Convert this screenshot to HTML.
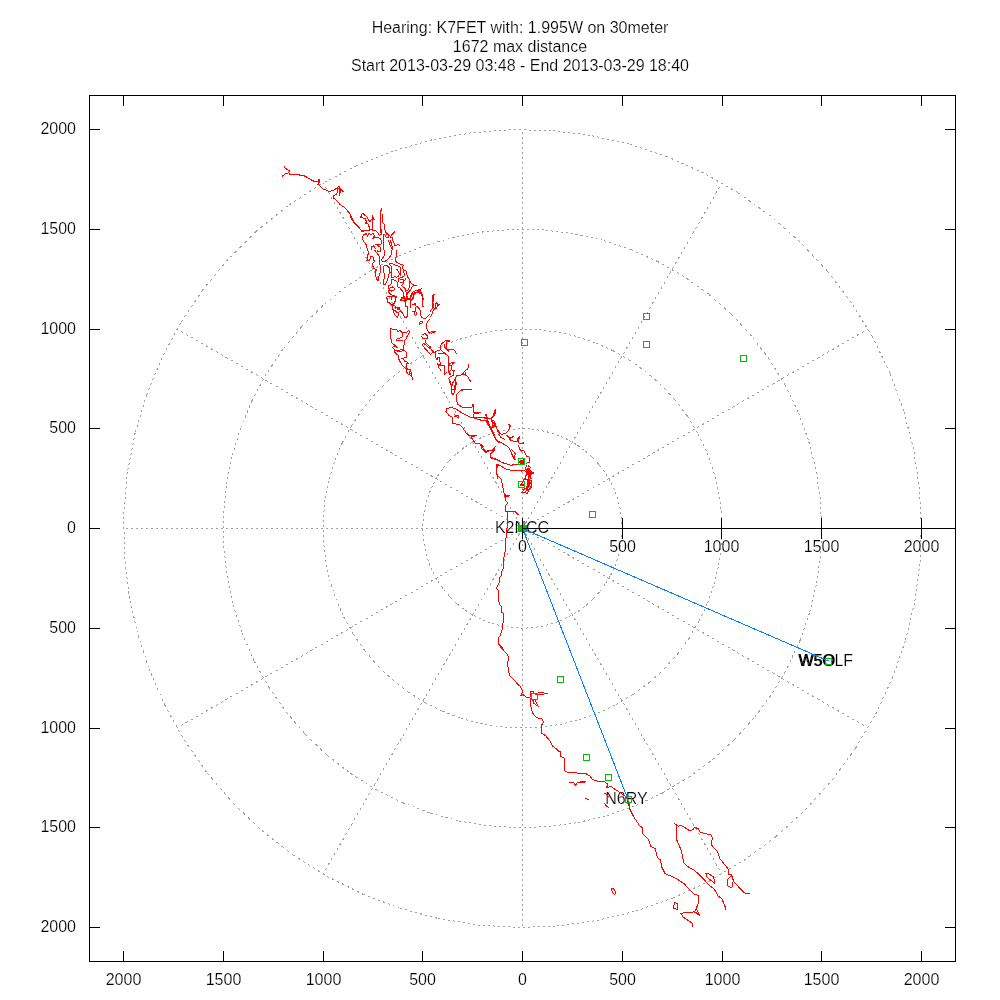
<!DOCTYPE html>
<html><head><meta charset="utf-8"><style>
html,body{margin:0;padding:0;background:#fff;width:1000px;height:1000px;overflow:hidden}
svg{display:block;will-change:transform}
text{font-family:"Liberation Sans",sans-serif}
</style></head><body>
<svg width="1000" height="1000" viewBox="0 0 1000 1000" shape-rendering="crispEdges">
<g fill="none" stroke="#a0a0a0" stroke-width="1"><line x1="622.25" y1="528.50" x2="621.75" y2="518.54" stroke-dasharray="2.00 3.00"/><line x1="621.75" y1="518.54" x2="620.26" y2="508.68" stroke-dasharray="2.02 3.03"/><line x1="620.26" y1="508.68" x2="617.79" y2="499.02" stroke-dasharray="2.06 3.10"/><line x1="617.79" y1="499.02" x2="614.38" y2="489.66" stroke-dasharray="2.13 3.19"/><line x1="614.38" y1="489.66" x2="610.04" y2="480.68" stroke-dasharray="2.22 3.33"/><line x1="610.04" y1="480.68" x2="604.83" y2="472.18" stroke-dasharray="2.35 3.52"/><line x1="604.83" y1="472.18" x2="598.79" y2="464.24" stroke-dasharray="2.51 3.77"/><line x1="598.79" y1="464.24" x2="592.00" y2="456.94" stroke-dasharray="2.73 4.10"/><line x1="592.00" y1="456.94" x2="584.51" y2="450.36" stroke-dasharray="2.66 3.99"/><line x1="584.51" y1="450.36" x2="576.40" y2="444.56" stroke-dasharray="2.46 3.69"/><line x1="576.40" y1="444.56" x2="567.75" y2="439.60" stroke-dasharray="2.31 3.46"/><line x1="567.75" y1="439.60" x2="558.65" y2="435.53" stroke-dasharray="2.19 3.29"/><line x1="558.65" y1="435.53" x2="549.18" y2="432.39" stroke-dasharray="2.11 3.16"/><line x1="549.18" y1="432.39" x2="539.45" y2="430.20" stroke-dasharray="2.05 3.07"/><line x1="539.45" y1="430.20" x2="529.56" y2="429.00" stroke-dasharray="2.01 3.02"/><line x1="529.56" y1="429.00" x2="519.59" y2="428.79" stroke-dasharray="2.00 3.00"/><line x1="519.59" y1="428.79" x2="509.65" y2="429.58" stroke-dasharray="2.01 3.01"/><line x1="509.65" y1="429.58" x2="499.84" y2="431.36" stroke-dasharray="2.03 3.05"/><line x1="499.84" y1="431.36" x2="490.25" y2="434.11" stroke-dasharray="2.08 3.12"/><line x1="490.25" y1="434.11" x2="480.99" y2="437.80" stroke-dasharray="2.15 3.23"/><line x1="480.99" y1="437.80" x2="472.14" y2="442.39" stroke-dasharray="2.25 3.38"/><line x1="472.14" y1="442.39" x2="463.80" y2="447.85" stroke-dasharray="2.39 3.58"/><line x1="463.80" y1="447.85" x2="456.04" y2="454.12" stroke-dasharray="2.57 3.86"/><line x1="456.04" y1="454.12" x2="448.94" y2="461.12" stroke-dasharray="2.81 4.22"/><line x1="448.94" y1="461.12" x2="442.59" y2="468.80" stroke-dasharray="2.60 3.89"/><line x1="442.59" y1="468.80" x2="437.03" y2="477.08" stroke-dasharray="2.41 3.61"/><line x1="437.03" y1="477.08" x2="432.32" y2="485.87" stroke-dasharray="2.27 3.40"/><line x1="432.32" y1="485.87" x2="428.51" y2="495.08" stroke-dasharray="2.16 3.25"/><line x1="428.51" y1="495.08" x2="425.65" y2="504.63" stroke-dasharray="2.09 3.13"/><line x1="425.65" y1="504.63" x2="423.75" y2="514.42" stroke-dasharray="2.04 3.06"/><line x1="423.75" y1="514.42" x2="422.84" y2="524.35" stroke-dasharray="2.01 3.01"/><line x1="422.84" y1="524.35" x2="422.92" y2="534.32" stroke-dasharray="2.00 3.00"/><line x1="422.92" y1="534.32" x2="424.00" y2="544.24" stroke-dasharray="2.01 3.02"/><line x1="424.00" y1="544.24" x2="426.06" y2="553.99" stroke-dasharray="2.04 3.07"/><line x1="426.06" y1="553.99" x2="429.09" y2="563.49" stroke-dasharray="2.10 3.15"/><line x1="429.09" y1="563.49" x2="433.05" y2="572.64" stroke-dasharray="2.18 3.27"/><line x1="433.05" y1="572.64" x2="437.90" y2="581.35" stroke-dasharray="2.29 3.43"/><line x1="437.90" y1="581.35" x2="443.60" y2="589.53" stroke-dasharray="2.44 3.66"/><line x1="443.60" y1="589.53" x2="450.09" y2="597.10" stroke-dasharray="2.63 3.95"/><line x1="450.09" y1="597.10" x2="457.30" y2="603.99" stroke-dasharray="2.77 4.15"/><line x1="457.30" y1="603.99" x2="465.16" y2="610.12" stroke-dasharray="2.54 3.80"/><line x1="465.16" y1="610.12" x2="473.60" y2="615.44" stroke-dasharray="2.36 3.55"/><line x1="473.60" y1="615.44" x2="482.52" y2="619.89" stroke-dasharray="2.23 3.35"/><line x1="482.52" y1="619.89" x2="491.84" y2="623.42" stroke-dasharray="2.14 3.21"/><line x1="491.84" y1="623.42" x2="501.47" y2="626.01" stroke-dasharray="2.07 3.11"/><line x1="501.47" y1="626.01" x2="511.31" y2="627.62" stroke-dasharray="2.03 3.04"/><line x1="511.31" y1="627.62" x2="521.26" y2="628.24" stroke-dasharray="2.00 3.01"/><line x1="521.26" y1="628.24" x2="531.23" y2="627.87" stroke-dasharray="2.00 3.00"/><line x1="531.23" y1="627.87" x2="541.10" y2="626.50" stroke-dasharray="2.02 3.03"/><line x1="541.10" y1="626.50" x2="550.80" y2="624.15" stroke-dasharray="2.06 3.09"/><line x1="550.80" y1="624.15" x2="560.20" y2="620.85" stroke-dasharray="2.12 3.18"/><line x1="560.20" y1="620.85" x2="569.23" y2="616.62" stroke-dasharray="2.21 3.31"/><line x1="569.23" y1="616.62" x2="577.80" y2="611.52" stroke-dasharray="2.33 3.49"/><line x1="577.80" y1="611.52" x2="585.81" y2="605.58" stroke-dasharray="2.49 3.73"/><line x1="585.81" y1="605.58" x2="593.19" y2="598.88" stroke-dasharray="2.70 4.05"/><line x1="593.19" y1="598.88" x2="599.86" y2="591.47" stroke-dasharray="2.69 4.04"/><line x1="599.86" y1="591.47" x2="605.76" y2="583.43" stroke-dasharray="2.48 3.72"/><line x1="605.76" y1="583.43" x2="610.83" y2="574.84" stroke-dasharray="2.32 3.48"/><line x1="610.83" y1="574.84" x2="615.02" y2="565.79" stroke-dasharray="2.20 3.31"/><line x1="615.02" y1="565.79" x2="618.28" y2="556.37" stroke-dasharray="2.12 3.17"/><line x1="618.28" y1="556.37" x2="620.58" y2="546.67" stroke-dasharray="2.06 3.08"/><line x1="620.58" y1="546.67" x2="621.91" y2="536.79" stroke-dasharray="2.02 3.03"/><line x1="621.91" y1="536.79" x2="622.24" y2="526.82" stroke-dasharray="2.00 3.00"/><line x1="722.00" y1="528.50" x2="721.00" y2="508.58" stroke-dasharray="2.00 3.00"/><line x1="721.00" y1="508.58" x2="718.02" y2="488.87" stroke-dasharray="2.02 3.03"/><line x1="718.02" y1="488.87" x2="713.09" y2="469.54" stroke-dasharray="2.06 3.10"/><line x1="713.09" y1="469.54" x2="706.25" y2="450.81" stroke-dasharray="2.13 3.19"/><line x1="706.25" y1="450.81" x2="697.58" y2="432.85" stroke-dasharray="2.22 3.33"/><line x1="697.58" y1="432.85" x2="687.15" y2="415.85" stroke-dasharray="2.35 3.52"/><line x1="687.15" y1="415.85" x2="675.09" y2="399.98" stroke-dasharray="2.51 3.77"/><line x1="675.09" y1="399.98" x2="661.49" y2="385.39" stroke-dasharray="2.73 4.10"/><line x1="661.49" y1="385.39" x2="646.51" y2="372.23" stroke-dasharray="2.66 3.99"/><line x1="646.51" y1="372.23" x2="630.29" y2="360.63" stroke-dasharray="2.46 3.69"/><line x1="630.29" y1="360.63" x2="612.99" y2="350.70" stroke-dasharray="2.31 3.46"/><line x1="612.99" y1="350.70" x2="594.79" y2="342.56" stroke-dasharray="2.19 3.29"/><line x1="594.79" y1="342.56" x2="575.87" y2="336.27" stroke-dasharray="2.11 3.16"/><line x1="575.87" y1="336.27" x2="556.41" y2="331.90" stroke-dasharray="2.05 3.07"/><line x1="556.41" y1="331.90" x2="536.61" y2="329.50" stroke-dasharray="2.01 3.02"/><line x1="536.61" y1="329.50" x2="516.67" y2="329.09" stroke-dasharray="2.00 3.00"/><line x1="516.67" y1="329.09" x2="496.80" y2="330.66" stroke-dasharray="2.01 3.01"/><line x1="496.80" y1="330.66" x2="477.17" y2="334.22" stroke-dasharray="2.03 3.05"/><line x1="477.17" y1="334.22" x2="458.00" y2="339.71" stroke-dasharray="2.08 3.12"/><line x1="458.00" y1="339.71" x2="439.48" y2="347.10" stroke-dasharray="2.15 3.23"/><line x1="439.48" y1="347.10" x2="421.78" y2="356.29" stroke-dasharray="2.25 3.38"/><line x1="421.78" y1="356.29" x2="405.09" y2="367.20" stroke-dasharray="2.39 3.58"/><line x1="405.09" y1="367.20" x2="389.58" y2="379.73" stroke-dasharray="2.57 3.86"/><line x1="389.58" y1="379.73" x2="375.39" y2="393.75" stroke-dasharray="2.81 4.22"/><line x1="375.39" y1="393.75" x2="362.67" y2="409.10" stroke-dasharray="2.60 3.89"/><line x1="362.67" y1="409.10" x2="351.55" y2="425.66" stroke-dasharray="2.41 3.61"/><line x1="351.55" y1="425.66" x2="342.14" y2="443.24" stroke-dasharray="2.27 3.40"/><line x1="342.14" y1="443.24" x2="334.53" y2="461.67" stroke-dasharray="2.16 3.25"/><line x1="334.53" y1="461.67" x2="328.79" y2="480.77" stroke-dasharray="2.09 3.13"/><line x1="328.79" y1="480.77" x2="325.00" y2="500.35" stroke-dasharray="2.04 3.06"/><line x1="325.00" y1="500.35" x2="323.17" y2="520.20" stroke-dasharray="2.01 3.01"/><line x1="323.17" y1="520.20" x2="323.34" y2="540.15" stroke-dasharray="2.00 3.00"/><line x1="323.34" y1="540.15" x2="325.50" y2="559.97" stroke-dasharray="2.01 3.02"/><line x1="325.50" y1="559.97" x2="329.62" y2="579.48" stroke-dasharray="2.04 3.07"/><line x1="329.62" y1="579.48" x2="335.68" y2="598.48" stroke-dasharray="2.10 3.15"/><line x1="335.68" y1="598.48" x2="343.60" y2="616.78" stroke-dasharray="2.18 3.27"/><line x1="343.60" y1="616.78" x2="353.30" y2="634.20" stroke-dasharray="2.29 3.43"/><line x1="353.30" y1="634.20" x2="364.70" y2="650.57" stroke-dasharray="2.44 3.66"/><line x1="364.70" y1="650.57" x2="377.68" y2="665.71" stroke-dasharray="2.63 3.95"/><line x1="377.68" y1="665.71" x2="392.10" y2="679.48" stroke-dasharray="2.77 4.15"/><line x1="392.10" y1="679.48" x2="407.82" y2="691.75" stroke-dasharray="2.54 3.80"/><line x1="407.82" y1="691.75" x2="424.69" y2="702.38" stroke-dasharray="2.36 3.55"/><line x1="424.69" y1="702.38" x2="442.54" y2="711.28" stroke-dasharray="2.23 3.35"/><line x1="442.54" y1="711.28" x2="461.19" y2="718.34" stroke-dasharray="2.14 3.21"/><line x1="461.19" y1="718.34" x2="480.45" y2="723.52" stroke-dasharray="2.07 3.11"/><line x1="480.45" y1="723.52" x2="500.13" y2="726.74" stroke-dasharray="2.03 3.04"/><line x1="500.13" y1="726.74" x2="520.03" y2="727.98" stroke-dasharray="2.00 3.01"/><line x1="520.03" y1="727.98" x2="539.96" y2="727.23" stroke-dasharray="2.00 3.00"/><line x1="539.96" y1="727.23" x2="559.71" y2="724.50" stroke-dasharray="2.02 3.03"/><line x1="559.71" y1="724.50" x2="579.09" y2="719.81" stroke-dasharray="2.06 3.09"/><line x1="579.09" y1="719.81" x2="597.91" y2="713.20" stroke-dasharray="2.12 3.18"/><line x1="597.91" y1="713.20" x2="615.97" y2="704.75" stroke-dasharray="2.21 3.31"/><line x1="615.97" y1="704.75" x2="633.10" y2="694.54" stroke-dasharray="2.33 3.49"/><line x1="633.10" y1="694.54" x2="649.12" y2="682.67" stroke-dasharray="2.49 3.73"/><line x1="649.12" y1="682.67" x2="663.88" y2="669.26" stroke-dasharray="2.70 4.05"/><line x1="663.88" y1="669.26" x2="677.23" y2="654.44" stroke-dasharray="2.69 4.04"/><line x1="677.23" y1="654.44" x2="689.03" y2="638.36" stroke-dasharray="2.48 3.72"/><line x1="689.03" y1="638.36" x2="699.16" y2="621.19" stroke-dasharray="2.32 3.48"/><line x1="699.16" y1="621.19" x2="707.53" y2="603.09" stroke-dasharray="2.20 3.31"/><line x1="707.53" y1="603.09" x2="714.05" y2="584.24" stroke-dasharray="2.12 3.17"/><line x1="714.05" y1="584.24" x2="718.66" y2="564.84" stroke-dasharray="2.06 3.08"/><line x1="718.66" y1="564.84" x2="721.31" y2="545.08" stroke-dasharray="2.02 3.03"/><line x1="721.31" y1="545.08" x2="721.97" y2="525.15" stroke-dasharray="2.00 3.00"/><line x1="821.75" y1="528.50" x2="820.25" y2="498.62" stroke-dasharray="2.00 3.00"/><line x1="820.25" y1="498.62" x2="815.78" y2="469.05" stroke-dasharray="2.02 3.03"/><line x1="815.78" y1="469.05" x2="808.38" y2="440.07" stroke-dasharray="2.06 3.10"/><line x1="808.38" y1="440.07" x2="798.13" y2="411.97" stroke-dasharray="2.13 3.19"/><line x1="798.13" y1="411.97" x2="785.12" y2="385.03" stroke-dasharray="2.22 3.33"/><line x1="785.12" y1="385.03" x2="769.48" y2="359.53" stroke-dasharray="2.35 3.52"/><line x1="769.48" y1="359.53" x2="751.38" y2="335.72" stroke-dasharray="2.51 3.77"/><line x1="751.38" y1="335.72" x2="730.99" y2="313.83" stroke-dasharray="2.73 4.10"/><line x1="730.99" y1="313.83" x2="708.52" y2="294.09" stroke-dasharray="2.66 3.99"/><line x1="708.52" y1="294.09" x2="684.19" y2="276.69" stroke-dasharray="2.46 3.69"/><line x1="684.19" y1="276.69" x2="658.24" y2="261.81" stroke-dasharray="2.31 3.46"/><line x1="658.24" y1="261.81" x2="630.94" y2="249.59" stroke-dasharray="2.19 3.29"/><line x1="630.94" y1="249.59" x2="602.55" y2="240.16" stroke-dasharray="2.11 3.16"/><line x1="602.55" y1="240.16" x2="573.36" y2="233.60" stroke-dasharray="2.05 3.07"/><line x1="573.36" y1="233.60" x2="543.67" y2="230.00" stroke-dasharray="2.01 3.02"/><line x1="543.67" y1="230.00" x2="513.76" y2="229.38" stroke-dasharray="2.00 3.00"/><line x1="513.76" y1="229.38" x2="483.94" y2="231.74" stroke-dasharray="2.01 3.01"/><line x1="483.94" y1="231.74" x2="454.51" y2="237.08" stroke-dasharray="2.03 3.05"/><line x1="454.51" y1="237.08" x2="425.76" y2="245.32" stroke-dasharray="2.08 3.12"/><line x1="425.76" y1="245.32" x2="397.97" y2="256.39" stroke-dasharray="2.15 3.23"/><line x1="397.97" y1="256.39" x2="371.42" y2="270.18" stroke-dasharray="2.25 3.38"/><line x1="371.42" y1="270.18" x2="346.39" y2="286.56" stroke-dasharray="2.39 3.58"/><line x1="346.39" y1="286.56" x2="323.12" y2="305.35" stroke-dasharray="2.57 3.86"/><line x1="323.12" y1="305.35" x2="301.83" y2="326.37" stroke-dasharray="2.81 4.22"/><line x1="301.83" y1="326.37" x2="282.76" y2="349.41" stroke-dasharray="2.60 3.89"/><line x1="282.76" y1="349.41" x2="266.08" y2="374.24" stroke-dasharray="2.41 3.61"/><line x1="266.08" y1="374.24" x2="251.96" y2="400.61" stroke-dasharray="2.27 3.40"/><line x1="251.96" y1="400.61" x2="240.54" y2="428.25" stroke-dasharray="2.16 3.25"/><line x1="240.54" y1="428.25" x2="231.94" y2="456.90" stroke-dasharray="2.09 3.13"/><line x1="231.94" y1="456.90" x2="226.24" y2="486.27" stroke-dasharray="2.04 3.06"/><line x1="226.24" y1="486.27" x2="223.51" y2="516.06" stroke-dasharray="2.01 3.01"/><line x1="223.51" y1="516.06" x2="223.76" y2="545.97" stroke-dasharray="2.00 3.00"/><line x1="223.76" y1="545.97" x2="227.00" y2="575.71" stroke-dasharray="2.01 3.02"/><line x1="227.00" y1="575.71" x2="233.19" y2="604.97" stroke-dasharray="2.04 3.07"/><line x1="233.19" y1="604.97" x2="242.27" y2="633.47" stroke-dasharray="2.10 3.15"/><line x1="242.27" y1="633.47" x2="254.15" y2="660.92" stroke-dasharray="2.18 3.27"/><line x1="254.15" y1="660.92" x2="268.71" y2="687.05" stroke-dasharray="2.29 3.43"/><line x1="268.71" y1="687.05" x2="285.80" y2="711.60" stroke-dasharray="2.44 3.66"/><line x1="285.80" y1="711.60" x2="305.26" y2="734.31" stroke-dasharray="2.63 3.95"/><line x1="305.26" y1="734.31" x2="326.90" y2="754.97" stroke-dasharray="2.77 4.15"/><line x1="326.90" y1="754.97" x2="350.48" y2="773.37" stroke-dasharray="2.54 3.80"/><line x1="350.48" y1="773.37" x2="375.79" y2="789.32" stroke-dasharray="2.36 3.55"/><line x1="375.79" y1="789.32" x2="402.56" y2="802.66" stroke-dasharray="2.23 3.35"/><line x1="402.56" y1="802.66" x2="430.53" y2="813.27" stroke-dasharray="2.14 3.21"/><line x1="430.53" y1="813.27" x2="459.42" y2="821.03" stroke-dasharray="2.07 3.11"/><line x1="459.42" y1="821.03" x2="488.94" y2="825.86" stroke-dasharray="2.03 3.04"/><line x1="488.94" y1="825.86" x2="518.79" y2="827.73" stroke-dasharray="2.00 3.01"/><line x1="518.79" y1="827.73" x2="548.68" y2="826.60" stroke-dasharray="2.00 3.00"/><line x1="548.68" y1="826.60" x2="578.31" y2="822.50" stroke-dasharray="2.02 3.03"/><line x1="578.31" y1="822.50" x2="607.39" y2="815.46" stroke-dasharray="2.06 3.09"/><line x1="607.39" y1="815.46" x2="635.61" y2="805.55" stroke-dasharray="2.12 3.18"/><line x1="635.61" y1="805.55" x2="662.70" y2="792.87" stroke-dasharray="2.21 3.31"/><line x1="662.70" y1="792.87" x2="688.40" y2="777.56" stroke-dasharray="2.33 3.49"/><line x1="688.40" y1="777.56" x2="712.43" y2="759.75" stroke-dasharray="2.49 3.73"/><line x1="712.43" y1="759.75" x2="734.57" y2="739.63" stroke-dasharray="2.70 4.05"/><line x1="734.57" y1="739.63" x2="754.59" y2="717.41" stroke-dasharray="2.69 4.04"/><line x1="754.59" y1="717.41" x2="772.29" y2="693.29" stroke-dasharray="2.48 3.72"/><line x1="772.29" y1="693.29" x2="787.49" y2="667.53" stroke-dasharray="2.32 3.48"/><line x1="787.49" y1="667.53" x2="800.05" y2="640.38" stroke-dasharray="2.20 3.31"/><line x1="800.05" y1="640.38" x2="809.83" y2="612.12" stroke-dasharray="2.12 3.17"/><line x1="809.83" y1="612.12" x2="816.74" y2="583.01" stroke-dasharray="2.06 3.08"/><line x1="816.74" y1="583.01" x2="820.72" y2="553.36" stroke-dasharray="2.02 3.03"/><line x1="820.72" y1="553.36" x2="821.71" y2="523.47" stroke-dasharray="2.00 3.00"/><line x1="921.50" y1="528.50" x2="919.51" y2="488.67" stroke-dasharray="2.00 3.00"/><line x1="919.51" y1="488.67" x2="913.55" y2="449.23" stroke-dasharray="2.02 3.03"/><line x1="913.55" y1="449.23" x2="903.68" y2="410.59" stroke-dasharray="2.06 3.10"/><line x1="903.68" y1="410.59" x2="890.00" y2="373.12" stroke-dasharray="2.13 3.19"/><line x1="890.00" y1="373.12" x2="872.66" y2="337.21" stroke-dasharray="2.22 3.33"/><line x1="872.66" y1="337.21" x2="851.81" y2="303.21" stroke-dasharray="2.35 3.52"/><line x1="851.81" y1="303.21" x2="827.67" y2="271.46" stroke-dasharray="2.51 3.77"/><line x1="827.67" y1="271.46" x2="800.49" y2="242.27" stroke-dasharray="2.73 4.10"/><line x1="800.49" y1="242.27" x2="770.52" y2="215.95" stroke-dasharray="2.66 3.99"/><line x1="770.52" y1="215.95" x2="738.08" y2="192.75" stroke-dasharray="2.46 3.69"/><line x1="738.08" y1="192.75" x2="703.48" y2="172.91" stroke-dasharray="2.31 3.46"/><line x1="703.48" y1="172.91" x2="667.08" y2="156.62" stroke-dasharray="2.19 3.29"/><line x1="667.08" y1="156.62" x2="629.23" y2="144.04" stroke-dasharray="2.11 3.16"/><line x1="629.23" y1="144.04" x2="590.32" y2="135.31" stroke-dasharray="2.05 3.07"/><line x1="590.32" y1="135.31" x2="550.72" y2="130.50" stroke-dasharray="2.01 3.02"/><line x1="550.72" y1="130.50" x2="510.85" y2="129.67" stroke-dasharray="2.00 3.00"/><line x1="510.85" y1="129.67" x2="471.09" y2="132.83" stroke-dasharray="2.01 3.01"/><line x1="471.09" y1="132.83" x2="431.85" y2="139.93" stroke-dasharray="2.03 3.05"/><line x1="431.85" y1="139.93" x2="393.51" y2="150.93" stroke-dasharray="2.08 3.12"/><line x1="393.51" y1="150.93" x2="356.46" y2="165.69" stroke-dasharray="2.15 3.23"/><line x1="356.46" y1="165.69" x2="321.07" y2="184.08" stroke-dasharray="2.25 3.38"/><line x1="321.07" y1="184.08" x2="287.69" y2="205.91" stroke-dasharray="2.39 3.58"/><line x1="287.69" y1="205.91" x2="256.66" y2="230.96" stroke-dasharray="2.57 3.86"/><line x1="256.66" y1="230.96" x2="228.28" y2="258.99" stroke-dasharray="2.81 4.22"/><line x1="228.28" y1="258.99" x2="202.84" y2="289.71" stroke-dasharray="2.60 3.89"/><line x1="202.84" y1="289.71" x2="180.60" y2="322.81" stroke-dasharray="2.41 3.61"/><line x1="180.60" y1="322.81" x2="161.78" y2="357.98" stroke-dasharray="2.27 3.40"/><line x1="161.78" y1="357.98" x2="146.55" y2="394.84" stroke-dasharray="2.16 3.25"/><line x1="146.55" y1="394.84" x2="135.09" y2="433.04" stroke-dasharray="2.09 3.13"/><line x1="135.09" y1="433.04" x2="127.49" y2="472.19" stroke-dasharray="2.04 3.06"/><line x1="127.49" y1="472.19" x2="123.85" y2="511.91" stroke-dasharray="2.01 3.01"/><line x1="123.85" y1="511.91" x2="124.18" y2="551.79" stroke-dasharray="2.00 3.00"/><line x1="124.18" y1="551.79" x2="128.50" y2="591.44" stroke-dasharray="2.01 3.02"/><line x1="128.50" y1="591.44" x2="136.75" y2="630.46" stroke-dasharray="2.04 3.07"/><line x1="136.75" y1="630.46" x2="148.85" y2="668.46" stroke-dasharray="2.10 3.15"/><line x1="148.85" y1="668.46" x2="164.69" y2="705.07" stroke-dasharray="2.18 3.27"/><line x1="164.69" y1="705.07" x2="184.11" y2="739.90" stroke-dasharray="2.29 3.43"/><line x1="184.11" y1="739.90" x2="206.90" y2="772.63" stroke-dasharray="2.44 3.66"/><line x1="206.90" y1="772.63" x2="232.85" y2="802.92" stroke-dasharray="2.63 3.95"/><line x1="232.85" y1="802.92" x2="261.70" y2="830.46" stroke-dasharray="2.77 4.15"/><line x1="261.70" y1="830.46" x2="293.15" y2="854.99" stroke-dasharray="2.54 3.80"/><line x1="293.15" y1="854.99" x2="326.89" y2="876.26" stroke-dasharray="2.36 3.55"/><line x1="326.89" y1="876.26" x2="362.58" y2="894.05" stroke-dasharray="2.23 3.35"/><line x1="362.58" y1="894.05" x2="399.87" y2="908.19" stroke-dasharray="2.14 3.21"/><line x1="399.87" y1="908.19" x2="438.39" y2="918.53" stroke-dasharray="2.07 3.11"/><line x1="438.39" y1="918.53" x2="477.75" y2="924.98" stroke-dasharray="2.03 3.04"/><line x1="477.75" y1="924.98" x2="517.56" y2="927.47" stroke-dasharray="2.00 3.01"/><line x1="517.56" y1="927.47" x2="557.41" y2="925.97" stroke-dasharray="2.00 3.00"/><line x1="557.41" y1="925.97" x2="596.92" y2="920.50" stroke-dasharray="2.02 3.03"/><line x1="596.92" y1="920.50" x2="635.68" y2="911.11" stroke-dasharray="2.06 3.09"/><line x1="635.68" y1="911.11" x2="673.31" y2="897.90" stroke-dasharray="2.12 3.18"/><line x1="673.31" y1="897.90" x2="709.44" y2="881.00" stroke-dasharray="2.21 3.31"/><line x1="709.44" y1="881.00" x2="743.70" y2="860.57" stroke-dasharray="2.33 3.49"/><line x1="743.70" y1="860.57" x2="775.74" y2="836.83" stroke-dasharray="2.49 3.73"/><line x1="775.74" y1="836.83" x2="805.26" y2="810.01" stroke-dasharray="2.70 4.05"/><line x1="805.26" y1="810.01" x2="831.95" y2="780.38" stroke-dasharray="2.69 4.04"/><line x1="831.95" y1="780.38" x2="855.55" y2="748.22" stroke-dasharray="2.48 3.72"/><line x1="855.55" y1="748.22" x2="875.82" y2="713.88" stroke-dasharray="2.32 3.48"/><line x1="875.82" y1="713.88" x2="892.56" y2="677.68" stroke-dasharray="2.20 3.31"/><line x1="892.56" y1="677.68" x2="905.61" y2="639.99" stroke-dasharray="2.12 3.17"/><line x1="905.61" y1="639.99" x2="914.82" y2="601.18" stroke-dasharray="2.06 3.08"/><line x1="914.82" y1="601.18" x2="920.12" y2="561.65" stroke-dasharray="2.02 3.03"/><line x1="920.12" y1="561.65" x2="921.44" y2="521.79" stroke-dasharray="2.00 3.00"/><line x1="522.50" y1="528.50" x2="868.04" y2="329.00" stroke-dasharray="2.31 3.46"/><line x1="522.50" y1="528.50" x2="722.00" y2="182.96" stroke-dasharray="2.31 3.46"/><line x1="522.50" y1="528.50" x2="522.50" y2="129.50" stroke-dasharray="2.00 3.00"/><line x1="522.50" y1="528.50" x2="323.00" y2="182.96" stroke-dasharray="2.31 3.46"/><line x1="522.50" y1="528.50" x2="176.96" y2="329.00" stroke-dasharray="2.31 3.46"/><line x1="522.50" y1="528.50" x2="123.50" y2="528.50" stroke-dasharray="2.00 3.00"/><line x1="522.50" y1="528.50" x2="176.96" y2="728.00" stroke-dasharray="2.31 3.46"/><line x1="522.50" y1="528.50" x2="323.00" y2="874.04" stroke-dasharray="2.31 3.46"/><line x1="522.50" y1="528.50" x2="522.50" y2="927.50" stroke-dasharray="2.00 3.00"/><line x1="522.50" y1="528.50" x2="722.00" y2="874.04" stroke-dasharray="2.31 3.46"/><line x1="522.50" y1="528.50" x2="868.04" y2="728.00" stroke-dasharray="2.31 3.46"/><line x1="522.50" y1="528.50" x2="921.50" y2="528.50" stroke-dasharray="2.00 3.00"/></g>
<g font-family="Liberation Sans, sans-serif" font-size="16" fill="#000" stroke="#fff" stroke-width="0.2" shape-rendering="auto"><text x="123.5" y="985" text-anchor="middle">2000</text><text x="76" y="134.0" text-anchor="end">2000</text><text x="223.5" y="985" text-anchor="middle">1500</text><text x="76" y="233.8" text-anchor="end">1500</text><text x="323.5" y="985" text-anchor="middle">1000</text><text x="76" y="333.5" text-anchor="end">1000</text><text x="422.5" y="985" text-anchor="middle">500</text><text x="76" y="433.2" text-anchor="end">500</text><text x="522.5" y="985" text-anchor="middle">0</text><text x="76" y="533.0" text-anchor="end">0</text><text x="622.5" y="985" text-anchor="middle">500</text><text x="76" y="632.8" text-anchor="end">500</text><text x="722.5" y="985" text-anchor="middle">1000</text><text x="76" y="732.5" text-anchor="end">1000</text><text x="821.5" y="985" text-anchor="middle">1500</text><text x="76" y="832.2" text-anchor="end">1500</text><text x="921.5" y="985" text-anchor="middle">2000</text><text x="76" y="932.0" text-anchor="end">2000</text><text x="522.5" y="552" text-anchor="middle">0</text><text x="622.5" y="552" text-anchor="middle">500</text><text x="721.5" y="552" text-anchor="middle">1000</text><text x="821.5" y="552" text-anchor="middle">1500</text><text x="921.5" y="552" text-anchor="middle">2000</text></g>
<g font-family="Liberation Sans, sans-serif" font-size="16" fill="#000" stroke="#fff" stroke-width="0.2" shape-rendering="auto" text-anchor="middle"><text x="520" y="33">Hearing: K7FET with: 1.995W on 30meter</text><text x="520" y="52">1672 max distance</text><text x="520" y="71">Start 2013-03-29 03:48 - End 2013-03-29 18:40</text></g>
<g font-family="Liberation Sans, sans-serif" font-size="16" fill="#000" stroke="#fff" stroke-width="0.2" shape-rendering="auto" text-anchor="middle"><text x="522" y="533">K2NCC</text><text x="825.5" y="666">W5OLF</text><text x="799" y="666" text-anchor="start" stroke="none">W5O</text><text x="626.5" y="804">N6RY</text></g>
<g fill="none" stroke="#ff0000" stroke-width="1" stroke-linejoin="round"><polyline points="284.0,166.0 285.0,168.2 287.5,169.5 289.2,170.8 288.8,172.8 286.0,173.5 284.0,175.0 282.0,176.5"/><polyline points="288.8,173.2 290.0,174.3 298.0,174.2 300.0,175.2 304.0,175.8 307.0,177.2 310.0,179.2 314.5,181.5 318.8,181.5 319.0,179.5 319.6,181.8 317.5,184.5 319.2,185.2 323.0,189.2 326.0,190.0 329.0,191.5 334.0,190.2 339.0,186.5 340.0,188.5 343.5,191.3 340.5,190.8 339.3,195.5 339.5,189.0 338.0,188.0 336.8,194.0 333.8,195.8 333.4,198.0 336.0,199.7 340.0,204.5 345.0,207.8 349.0,212.5 351.0,216.0 353.0,221.0 357.0,225.0 361.8,231.2 370.0,230.5"/><polyline points="350.0,214.0 350.5,217.0 352.0,220.0 353.5,221.0 353.8,223.0 357.0,226.0 361.5,230.5 362.0,231.2 364.5,230.2 369.0,230.0 370.0,229.0 372.0,230.2 375.5,230.2 377.5,232.5 379.5,235.5 381.5,234.0 382.0,232.0 381.0,229.5"/><polyline points="370.0,229.0 368.0,224.0 365.5,223.0 366.5,222.0 365.5,219.0 363.5,218.2 362.0,217.0 360.5,217.5 362.5,213.2 364.5,215.0 366.5,216.5 370.0,222.0 371.0,220.0 372.0,219.0 372.0,215.5 374.5,219.5 372.5,219.5 372.0,223.0 372.5,229.0 372.0,230.0"/><polyline points="381.5,234.0 380.0,229.5 380.0,213.5 381.5,209.0 382.5,208.5"/><polyline points="382.5,214.0 382.5,222.5 384.0,223.5 384.5,228.5 386.0,232.5 387.5,234.0 390.0,236.0 390.5,237.0 391.5,235.0 395.0,231.5"/><polyline points="384.5,234.5 386.0,237.0 389.0,237.0 388.0,234.5 386.0,234.0"/><polyline points="383.2,234.5 383.5,250.0"/><polyline points="390.5,237.0 392.5,237.5 392.5,240.0 393.5,242.0 395.0,246.0 397.5,244.5 400.0,245.5"/><polyline points="388.5,240.0 389.5,244.0 391.5,248.0 392.5,250.0"/><polyline points="390.0,240.0 391.0,242.5 393.0,250.0"/><polyline points="367.5,250.0 366.5,245.0 363.5,241.5 362.2,237.5 363.5,235.0 366.5,233.5 367.5,236.5 368.5,233.2 371.0,234.5 373.0,233.2 374.5,236.0 372.5,238.5 376.5,237.2 380.0,238.5 381.5,241.0 381.0,244.0 375.5,244.2 380.0,247.0 380.5,250.0"/><polyline points="371.5,250.0 371.5,246.8 373.5,246.0 376.5,249.5"/><polyline points="367.5,250.0 369.0,253.0 367.5,255.5 368.0,259.0 367.0,260.5 369.5,260.5 370.5,257.0 372.5,256.2 373.5,257.5 374.0,260.5 374.5,261.5 372.5,263.5 372.5,266.5 374.0,266.0 373.5,268.5 376.5,269.8 375.5,271.5 375.5,275.5 377.2,280.0 378.5,280.0 379.0,276.0 380.5,271.5 380.0,264.5 379.5,256.5 377.0,253.0 374.5,250.0"/><polyline points="377.0,250.0 377.5,251.5 380.0,251.5 380.5,250.0"/><polyline points="384.0,250.0 384.5,255.0 383.0,257.5 381.5,260.0 382.5,262.0 385.0,261.5 388.0,259.0 391.0,255.5 391.2,250.0"/><polyline points="396.5,250.0 396.0,257.5 395.2,260.0 396.5,262.5 400.0,263.5"/><polyline points="385.0,265.0 383.5,267.0 383.5,272.5 385.0,275.0 384.5,278.0 383.5,280.0 383.5,284.5 385.5,284.5 387.0,281.0 388.0,278.0 389.0,274.0 391.0,272.0 391.5,277.0 393.5,277.5 394.5,276.2 396.5,277.5 398.5,276.0 399.5,274.0 397.5,270.0 396.5,269.5"/><polyline points="385.0,265.0 387.0,265.5 389.0,267.5 389.5,269.0 390.0,273.0 391.0,272.0"/><polyline points="389.0,263.0 389.5,264.5 391.5,266.5 391.5,272.0"/><polyline points="389.0,263.0 391.5,263.5 395.0,265.0 398.0,266.0 400.0,266.5"/><polyline points="400.0,278.0 398.5,279.0 398.5,281.0 399.5,282.5"/><polyline points="391.5,279.5 391.0,284.0 388.5,286.0 389.0,288.5 392.5,287.0 394.0,288.0 394.0,290.0 391.5,291.5 389.5,290.0 388.5,292.0 391.0,294.5 392.5,295.5 396.5,296.5 395.5,300.0"/><polyline points="391.5,279.5 394.0,280.0 397.0,281.5 397.0,285.0 398.0,287.0 400.0,288.0"/><polyline points="386.0,297.0 388.0,300.0"/><polyline points="392.5,295.5 391.0,300.0"/><polyline points="400.0,264.0 402.0,264.5 403.5,265.5 402.5,266.5 402.0,268.5 403.5,269.5 403.0,272.0 404.5,273.5 404.0,276.0 402.0,277.5 400.0,278.0"/><polyline points="400.0,267.5 401.0,269.0 400.0,272.0 400.5,276.5"/><polyline points="403.5,269.5 406.5,271.5 407.0,275.0 407.5,277.0 409.0,279.0 410.0,281.5 412.0,284.0 413.5,285.0 416.5,285.5 413.0,286.0 411.5,288.0 410.5,290.0 408.5,292.5 406.5,295.0 406.5,298.0 408.0,300.0"/><polyline points="400.0,279.0 403.0,279.0 403.5,281.0 402.5,283.0 400.0,282.5"/><polyline points="405.5,278.0 405.0,280.0 404.0,281.0 403.0,284.0 401.5,285.5 403.0,287.0 405.0,288.5 405.5,290.0 408.0,290.0 409.0,288.0 409.5,284.5 409.0,281.5"/><polyline points="400.0,288.5 403.0,291.5 403.5,295.0 403.0,297.0 402.0,298.0 401.0,300.0"/><polyline points="403.0,297.0 405.5,299.0 406.0,300.0"/><polyline points="422.5,288.5 420.0,289.5 416.5,290.5 413.5,291.5 411.5,293.5 410.5,297.5 410.0,300.0"/><polyline points="420.0,289.5 421.0,293.0 422.0,296.0 423.0,299.0"/><polyline points="418.0,292.0 414.5,293.5 413.5,297.0 412.5,300.0"/><polyline points="434.5,294.0 432.5,296.5 432.0,300.0"/><polyline points="389.0,290.0 388.5,291.5 390.0,293.0 392.2,295.0 392.0,296.5 387.5,296.5 386.5,297.5 387.2,299.5 387.2,302.5 389.0,303.0 392.0,305.5 392.5,308.5 393.5,310.5 393.5,311.5 395.0,315.0 397.5,317.5 398.5,314.5 399.0,312.0 401.0,311.5 402.5,313.0 404.0,316.0 404.5,317.5 406.5,317.5 407.5,315.5 407.5,310.0 408.0,307.0 405.5,306.0 405.5,304.5 406.0,303.0 405.0,301.5 404.0,300.0 401.5,300.2 400.5,300.5 402.0,297.5 404.0,299.0 406.0,300.5 406.5,300.0 404.5,297.0 403.5,295.0 403.0,292.0 402.5,290.0"/><polyline points="390.0,290.0 391.5,291.0 393.5,290.5"/><polyline points="392.0,296.5 396.5,296.5 395.5,298.5 396.0,301.0 394.5,301.5 394.0,303.5 393.0,304.0 394.5,305.5 396.5,307.5 398.5,308.5 400.0,310.0 402.0,312.0"/><polyline points="389.5,302.5 392.5,305.0 395.0,306.0 396.0,308.5"/><polyline points="397.5,307.5 399.0,307.5 399.5,309.0 398.0,309.5 397.5,307.5 398.8,308.5"/><polyline points="394.5,310.0 396.0,311.5 397.5,313.0 399.0,312.5"/><polyline points="405.0,290.0 406.5,293.5 406.5,295.5 408.0,298.5 409.0,299.5 410.5,297.5 412.0,295.0 413.0,293.5 415.0,292.5 420.0,291.0 419.5,290.0"/><polyline points="410.0,290.0 408.0,292.5 406.5,295.0"/><polyline points="411.0,308.0 410.0,306.5 410.5,301.0 412.5,299.0 414.0,294.0 415.0,293.0 418.0,292.0 421.0,294.0 422.0,296.0 423.5,299.0 422.0,301.0 422.0,306.5 423.5,306.5"/><polyline points="412.5,305.0 415.5,303.5 416.0,306.0 417.5,307.0 420.0,309.5 420.5,315.0 421.5,317.0 425.0,319.0 429.5,314.5"/><polyline points="412.5,311.0 414.5,312.0 414.5,314.5 415.5,315.5 416.5,314.5 416.0,312.0 415.5,307.5"/><polyline points="420.0,290.0 421.0,292.0 422.5,294.5 423.0,299.0"/><polyline points="417.0,290.0 421.0,291.5"/><polyline points="419.5,322.0 419.5,324.5 422.5,322.5 422.0,321.5 420.0,322.0"/><polyline points="430.0,319.0 427.5,321.5 426.0,326.0 427.5,330.0 429.0,332.5 430.0,334.0"/><polyline points="391.0,328.5 390.5,331.0 390.5,337.5 391.5,340.0"/><polyline points="391.0,328.5 393.0,329.5 396.5,329.5 398.0,331.5 400.0,330.5 402.0,332.5 407.0,332.0 408.5,330.5 409.5,331.5 408.5,334.0 406.5,337.5 405.5,340.0"/><polyline points="402.0,332.5 402.0,337.0 400.0,338.0 398.5,338.0 396.5,339.5"/><polyline points="422.0,335.0 425.0,333.5 427.5,336.0 427.5,338.0 425.0,339.0 422.5,338.0 421.5,336.5"/><polyline points="434.5,294.2 433.0,295.5 432.2,296.5 432.5,302.5 432.5,308.5 431.0,310.0 430.0,311.5"/><polyline points="433.0,295.5 433.5,299.0 433.0,302.5 433.2,308.5"/><polyline points="436.5,302.0 435.5,304.5 435.0,308.5 433.0,311.0 432.0,314.0 430.5,317.5"/><polyline points="436.5,302.0 437.5,305.0 440.0,304.5 437.5,305.5 436.5,308.0 433.5,310.0"/><polyline points="430.0,332.5 431.5,331.5 436.0,331.5 433.0,332.5 431.0,333.5"/><polyline points="391.5,340.0 392.0,343.0 394.5,345.0 397.0,347.5 394.5,346.0 392.5,347.5 395.0,350.5 394.5,351.5 395.5,353.5 397.5,354.5 399.0,356.0 398.5,358.5 400.0,361.5 402.5,365.5 405.5,368.5 406.5,369.5 406.5,371.5 407.5,373.5 410.0,375.0 412.0,376.5 412.0,380.0 411.5,380.5"/><polyline points="405.0,340.0 404.0,345.0 403.5,349.0 400.0,350.0 395.5,350.5 399.0,351.5 402.5,351.0 404.5,350.5 406.5,352.5 406.5,357.5 404.0,358.0 401.5,358.5 403.5,359.0 404.5,361.0 407.0,362.0 408.5,363.5 407.0,363.5 406.5,365.0 406.5,368.0 408.0,369.5 410.5,369.5 410.5,371.5 409.0,372.0 410.0,374.0 411.5,372.5 412.0,376.5"/><polyline points="396.0,340.0 402.0,340.0 402.0,340.5 396.0,340.5"/><polyline points="426.0,340.0 425.5,342.5 429.5,346.5 430.0,347.5"/><polyline points="422.5,344.0 422.5,345.5 426.0,349.5 427.5,351.0 429.5,354.0"/><polyline points="423.5,343.0 430.0,348.5"/><polyline points="430.0,346.5 431.5,350.0 433.5,352.0 431.0,354.0 430.0,354.5"/><polyline points="434.0,353.0 437.5,350.5 440.0,350.0 440.0,346.0 442.5,343.0 445.0,341.0 446.5,340.0"/><polyline points="446.5,340.0 450.0,340.0 449.5,341.5 446.5,341.5 446.0,343.0 446.5,346.5 447.0,349.0 449.0,350.0 453.5,349.5 455.0,351.0 456.5,354.5"/><polyline points="444.5,344.0 445.0,347.5 447.0,349.5 449.0,351.5"/><polyline points="435.0,353.0 435.5,356.5 436.5,359.5 437.5,359.5 438.0,357.0 440.0,357.5 439.5,359.0 440.0,362.0 440.5,364.5 443.0,366.0 444.5,365.5 444.5,375.0 445.5,374.5 446.5,372.0"/><polyline points="441.0,350.5 444.0,352.5 447.5,355.5 448.5,356.5 448.0,363.0 448.0,372.0 450.0,374.5 451.0,373.0"/><polyline points="437.5,353.0 441.0,353.0 445.0,353.5 446.5,355.0"/><polyline points="437.5,363.5 438.5,367.0 440.5,370.0 441.5,371.5"/><polyline points="437.5,363.5 441.5,366.5"/><polyline points="449.0,363.5 453.0,362.5 454.5,362.5 452.5,364.0 451.5,366.0 451.0,370.0 449.0,372.5"/><polyline points="449.0,363.5 449.5,365.0 452.0,365.0"/><polyline points="452.0,371.0 455.0,370.5 453.0,372.0 453.5,375.0 449.5,377.5 448.5,378.5 450.5,381.5 451.5,387.0"/><polyline points="468.5,364.5 468.0,368.5 465.0,371.0 462.5,374.0 460.5,375.5 456.5,376.0 455.0,379.0 453.0,382.5 451.5,387.0"/><polyline points="465.0,371.5 465.5,375.0 468.0,377.0 469.5,380.0 471.5,382.5"/><polyline points="465.0,374.5 462.0,374.5 460.0,375.5"/><polyline points="456.0,379.0 455.5,383.5 457.0,383.5 455.5,385.0 455.5,390.0"/><polyline points="451.0,389.5 454.0,389.5"/><polyline points="461.0,389.5 469.0,389.5"/><polyline points="449.0,380.0 452.0,388.0 451.0,393.0 453.0,394.5 455.0,392.0 454.5,386.0 457.0,384.0 454.5,380.0"/><polyline points="472.0,390.0 464.0,389.5 460.0,391.0 457.0,394.0 456.0,400.0 458.0,404.5 464.0,408.0 472.0,407.0 473.0,404.5 474.0,410.0 473.0,413.0 481.0,412.5 474.0,414.0 473.0,417.5 486.0,418.0 487.0,414.0 486.0,418.0 490.0,419.0 495.0,414.0 495.5,409.5 493.0,416.0 491.0,419.0 496.0,427.0 500.0,434.0"/><polyline points="447.0,408.5 446.0,411.5 449.0,415.5 452.0,417.0 452.5,423.0 456.0,424.0 460.0,425.0 463.0,428.0 466.0,433.0 470.0,436.0 476.5,435.5 471.0,437.0 475.0,443.0 480.0,444.0 483.0,448.0 486.0,452.0 492.0,450.0 495.0,447.0 494.0,451.0 490.5,454.0 491.0,457.0 500.0,461.0"/><polyline points="447.0,408.5 451.0,407.5 456.0,409.0 462.0,413.0 470.0,417.0 479.0,419.5 486.0,421.0 489.0,426.0 494.0,436.0 496.0,440.0 500.0,443.0"/><polyline points="454.0,414.0 456.0,416.0 459.0,415.0 458.0,417.5 454.0,416.0"/><polyline points="488.0,421.0 490.0,427.0 493.0,427.0 492.0,422.0"/><polyline points="497.0,464.0 496.0,470.0 498.0,479.0"/><polyline points="497.0,464.0 500.0,466.0"/><polyline points="480.0,420.0 484.8,420.0 488.0,421.6 490.4,427.2 492.8,431.2 494.4,435.2 495.6,439.2 499.2,441.6 506.4,445.6 509.6,448.8 512.0,454.4 513.6,457.6 514.4,460.0"/><polyline points="480.0,417.2 484.0,418.0 487.2,418.8 491.2,418.4 494.4,415.2 495.2,409.6 494.0,414.8 492.0,417.2"/><polyline points="485.6,414.4 486.4,417.2 488.8,418.4"/><polyline points="488.0,419.2 487.2,423.2 489.6,427.2"/><polyline points="491.2,419.2 493.6,427.2 495.2,424.0 493.6,420.0"/><polyline points="495.6,424.8 497.6,431.2 501.2,434.4 505.6,433.6 508.4,430.4 510.4,425.6 508.4,424.4"/><polyline points="498.4,433.6 500.8,437.6 504.8,439.2"/><polyline points="506.4,435.2 509.6,437.6 513.2,436.8 510.4,438.4 507.2,436.4"/><polyline points="508.8,437.6 510.4,440.0 514.4,441.6 517.6,441.6 518.0,438.4 519.6,436.4 518.4,441.6 519.2,443.6 523.2,443.2 523.2,442.0"/><polyline points="518.4,444.8 520.0,449.6 521.6,451.2 523.6,450.4 526.4,456.0 529.6,457.2 529.6,462.4 526.4,463.2"/><polyline points="480.0,444.0 483.2,446.4 480.8,448.0 483.2,449.6 486.4,452.8 488.0,450.4 492.8,450.4 495.2,446.4 494.4,449.6 490.4,454.4 490.4,457.6 496.8,460.0 504.0,463.2 512.0,465.6 513.6,464.0 517.6,464.0"/><polyline points="511.2,448.8 515.2,453.6 514.4,457.6 515.2,460.0"/><polyline points="519.2,460.8 520.0,463.2 523.6,463.2 523.6,460.0 523.2,457.6"/><polyline points="496.8,464.8 497.6,466.4 496.4,470.0"/><polyline points="496.8,464.8 500.0,465.6 505.6,468.8 512.0,470.4 517.6,470.4 521.6,471.2 524.8,470.4"/><polyline points="526.4,464.8 525.6,468.8 527.2,472.0 525.6,476.8 524.8,480.0"/><polyline points="528.0,465.6 530.4,467.2 528.8,470.4 532.8,472.8 530.4,476.0 528.0,479.2"/><polyline points="496.4,470.0 497.2,475.2 501.2,479.2 502.4,485.2 504.0,493.2 504.8,496.4 509.6,496.0 505.6,494.8 505.2,500.4 508.0,502.8 505.6,505.2 505.6,511.6 514.4,511.2 517.6,514.4 518.8,514.4 515.2,511.6 507.2,512.0 507.2,513.6 507.6,519.6 507.2,526.0 506.4,536.4 505.6,540.4 505.6,550.0"/><polyline points="512.0,470.4 520.8,470.4 524.8,470.0"/><polyline points="524.8,470.8 528.0,474.8 531.2,473.2 533.6,473.2 529.6,470.0"/><polyline points="526.4,472.4 531.2,478.8 527.2,479.6 524.0,478.8 523.2,481.2 521.6,484.0 520.0,485.2 523.2,484.4 524.4,486.8 524.8,489.2 521.6,492.4 527.2,493.2 529.6,489.2 531.6,486.8 531.6,481.2 528.8,478.8 528.0,475.6"/><polyline points="528.0,481.2 530.4,482.8 528.8,485.2 531.2,486.8 529.6,488.4 527.2,490.0 524.8,491.6"/><polyline points="522.4,490.0 525.6,488.4 528.0,490.8"/><polyline points="505.5,550.0 504.0,557.0 503.5,568.5 501.5,572.0 502.0,574.5 500.0,577.0 499.0,583.0 496.5,588.0 498.5,591.0 498.5,600.0 499.5,604.0 501.5,607.0 501.5,612.0 503.5,613.5 504.0,620.0 502.5,624.0 502.0,630.0 500.5,635.0 498.5,638.0 498.5,643.5 504.0,650.0"/><polyline points="498.5,640.0 498.5,644.0 501.5,648.0 507.5,654.5 508.5,658.0 507.5,664.0 509.5,675.5 514.0,680.0 518.0,684.5 520.0,686.0 522.0,690.0 523.0,691.0 522.0,693.0 521.0,695.5 523.0,694.5 526.5,697.5 530.0,697.5 530.5,692.0 533.0,691.5 534.5,694.0 537.5,694.5 544.0,694.0 548.0,693.5 539.0,692.5 537.0,694.0"/><polyline points="530.5,697.5 530.5,705.0 532.5,713.0 536.5,717.5 542.0,719.0 543.5,722.0 541.5,725.5 541.5,733.0 546.0,736.0 549.0,740.0"/><polyline points="532.5,699.0 534.0,703.5 537.0,705.5 538.5,706.5 536.0,702.0 534.5,699.0"/><polyline points="541.0,730.0 542.0,733.5 546.0,736.0 550.0,741.0 552.5,746.0 556.0,748.5 559.0,751.5 560.5,752.0 560.5,756.5 564.0,758.0 565.0,768.0 564.5,770.5 567.5,772.5 577.0,773.0 585.5,773.5 590.0,776.0 592.0,779.0 596.5,781.0 604.5,781.5 608.0,784.5 606.5,787.5 611.0,786.5 616.0,790.0 621.0,793.0 626.0,797.0 628.0,801.0 629.0,806.0"/><polyline points="569.0,782.0 574.0,783.0 575.5,785.0 577.5,782.5 580.0,783.0 582.0,782.5 585.5,782.0 581.0,781.5 579.5,783.0"/><polyline points="585.5,798.5 589.0,799.5"/><polyline points="604.5,793.5 607.0,794.5 609.0,797.0"/><polyline points="604.5,803.5 606.5,806.0 609.0,807.5"/><polyline points="629.0,802.2 629.8,809.0 633.5,816.5 639.5,825.5 642.5,827.8 642.5,833.8 648.5,839.8 650.8,846.5 655.2,848.8 657.5,857.8 660.5,860.0 662.0,867.5 665.0,873.5 677.0,878.8 680.0,881.0 684.5,884.0 689.0,889.2 693.5,893.8 698.0,895.2 698.8,902.0 695.8,909.5 694.2,912.5 696.5,908.8 699.5,915.5 695.0,911.8 680.8,913.2 683.0,917.0 692.0,923.0 692.8,926.8"/><polyline points="674.0,823.2 678.5,826.2 681.5,825.5 689.8,830.8 693.5,829.2 694.2,827.3 698.0,828.5 700.2,832.2 711.5,835.2 712.2,838.2 711.5,845.0 717.5,851.8 719.8,858.5 728.8,869.8 728.8,874.2 731.8,875.0 734.0,881.8 740.0,888.5 744.5,893.0 749.8,893.8"/><polyline points="676.2,824.8 677.0,840.5 681.5,851.0 683.8,863.0 689.0,867.5 693.5,869.8 698.0,873.5 704.0,879.5 709.2,885.5 713.8,888.5 718.2,896.0 722.0,899.0 725.0,906.5 725.8,909.5"/><polyline points="705.5,872.8 707.0,877.2 714.5,883.2 713.8,877.2 708.5,873.5 705.5,872.8"/><polyline points="731.8,875.8 728.0,878.8 727.2,885.5 731.8,887.8 733.2,881.0 731.8,875.8"/><polyline points="674.8,902.0 673.2,908.0 677.0,909.5 677.0,903.5 674.8,902.0"/><polyline points="611.5,888.5 613.5,888.5 614.5,890.5 615.5,891.5 615.5,893.5 614.5,894.5 613.0,893.0 612.0,891.0 611.5,888.5"/></g>
<g fill="#ff0000" stroke="none"><polygon points="527.1,468.6 529.1,468.0 530.4,469.4 531.3,471.6 531.5,473.3 530.4,474.9 529.1,476.0 528.0,476.3 527.4,474.4 527.1,471.1"/><polygon points="527.4,479.5 529.6,479.8 530.1,482.8 530.1,486.1 529.0,487.8 527.4,489.1 524.9,489.1 525.7,487.2 526.8,485.6 527.4,483.4"/><polygon points="520.0,460.0 522.5,460.0 522.5,462.5 520.0,462.5"/><polygon points="520.4,485.8 522.8,483.4 522.8,485.8"/></g>
<g fill="none" stroke="#00c000" stroke-width="1"><rect x="521.5" y="339.5" width="6" height="6"/><rect x="643.5" y="313.5" width="6" height="6"/><rect x="643.5" y="341.5" width="6" height="6"/><rect x="740.5" y="355.5" width="6" height="6"/><rect x="518.5" y="458.5" width="6" height="6"/><rect x="518.5" y="481.5" width="6" height="6"/><rect x="589.5" y="511.5" width="6" height="6"/><rect x="825.5" y="658.5" width="6" height="6"/><rect x="557.5" y="676.5" width="6" height="6"/><rect x="531.5" y="693.5" width="6" height="6"/><rect x="583.5" y="754.5" width="6" height="6"/><rect x="605.5" y="774.5" width="6" height="6"/><rect x="625.5" y="796.5" width="6" height="6"/></g>
<rect x="518" y="525" width="9" height="7" fill="#00c000"/>
<g stroke="#0080ff" stroke-width="1"><line x1="522.5" y1="528.5" x2="828.5" y2="661"/><line x1="522.5" y1="528.5" x2="628" y2="799.5"/></g>
<g fill="none" stroke="#000" stroke-width="1"><rect x="89.5" y="95.5" width="866.0" height="866.0"/><line x1="123.5" y1="95.5" x2="123.5" y2="105.5"/><line x1="123.5" y1="961.5" x2="123.5" y2="950.5"/><line x1="89.5" y1="129.5" x2="99.5" y2="129.5"/><line x1="955.5" y1="129.5" x2="944.5" y2="129.5"/><line x1="223.5" y1="95.5" x2="223.5" y2="105.5"/><line x1="223.5" y1="961.5" x2="223.5" y2="950.5"/><line x1="89.5" y1="229.5" x2="99.5" y2="229.5"/><line x1="955.5" y1="229.5" x2="944.5" y2="229.5"/><line x1="323.5" y1="95.5" x2="323.5" y2="105.5"/><line x1="323.5" y1="961.5" x2="323.5" y2="950.5"/><line x1="89.5" y1="329.5" x2="99.5" y2="329.5"/><line x1="955.5" y1="329.5" x2="944.5" y2="329.5"/><line x1="422.5" y1="95.5" x2="422.5" y2="105.5"/><line x1="422.5" y1="961.5" x2="422.5" y2="950.5"/><line x1="89.5" y1="428.5" x2="99.5" y2="428.5"/><line x1="955.5" y1="428.5" x2="944.5" y2="428.5"/><line x1="522.5" y1="95.5" x2="522.5" y2="105.5"/><line x1="522.5" y1="961.5" x2="522.5" y2="950.5"/><line x1="89.5" y1="528.5" x2="99.5" y2="528.5"/><line x1="955.5" y1="528.5" x2="944.5" y2="528.5"/><line x1="622.5" y1="95.5" x2="622.5" y2="105.5"/><line x1="622.5" y1="961.5" x2="622.5" y2="950.5"/><line x1="89.5" y1="628.5" x2="99.5" y2="628.5"/><line x1="955.5" y1="628.5" x2="944.5" y2="628.5"/><line x1="722.5" y1="95.5" x2="722.5" y2="105.5"/><line x1="722.5" y1="961.5" x2="722.5" y2="950.5"/><line x1="89.5" y1="728.5" x2="99.5" y2="728.5"/><line x1="955.5" y1="728.5" x2="944.5" y2="728.5"/><line x1="821.5" y1="95.5" x2="821.5" y2="105.5"/><line x1="821.5" y1="961.5" x2="821.5" y2="950.5"/><line x1="89.5" y1="827.5" x2="99.5" y2="827.5"/><line x1="955.5" y1="827.5" x2="944.5" y2="827.5"/><line x1="921.5" y1="95.5" x2="921.5" y2="105.5"/><line x1="921.5" y1="961.5" x2="921.5" y2="950.5"/><line x1="89.5" y1="927.5" x2="99.5" y2="927.5"/><line x1="955.5" y1="927.5" x2="944.5" y2="927.5"/><line x1="522.5" y1="528.5" x2="955.5" y2="528.5"/><line x1="522.5" y1="518.0" x2="522.5" y2="538.5"/><line x1="622.5" y1="518.0" x2="622.5" y2="538.5"/><line x1="721.5" y1="518.0" x2="721.5" y2="538.5"/><line x1="821.5" y1="518.0" x2="821.5" y2="538.5"/><line x1="921.5" y1="518.0" x2="921.5" y2="538.5"/></g>
</svg></body></html>
